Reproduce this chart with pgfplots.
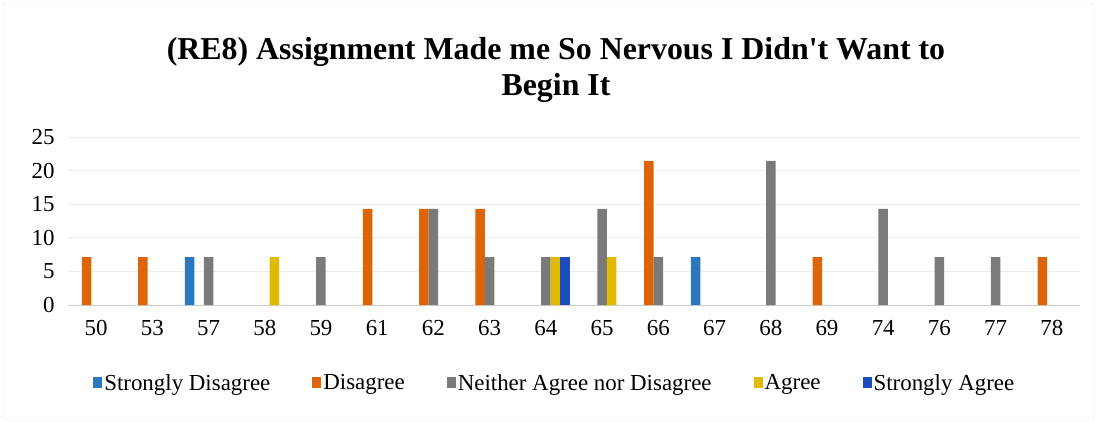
\documentclass[border=0pt]{standalone}
\usepackage{pgfplots}
\pgfplotsset{compat=1.18}
\usepackage{fontspec}
\setmainfont{Liberation Serif}[Ligatures=TeXOff]
\definecolor{sdC}{HTML}{2C78C0}
\definecolor{dC}{HTML}{DE6408}
\definecolor{nC}{HTML}{7A7A7A}
\definecolor{aC}{HTML}{E0BA00}
\definecolor{saC}{HTML}{1C4CC0}
\begin{document}
\begin{tikzpicture}[x=1bp,y=1bp]
\path[use as bounding box] (0,0) rectangle (1098,422);
\draw[black!12, rounded corners=3bp] (3,3) rectangle (1094,419);
\node[font=\bfseries\fontsize{32}{37}\selectfont, align=center] at (556,352)
  {(RE8) Assignment Made me So Nervous I Didn't Want to\\Begin It};
\begin{axis}[
  at={(68bp,117bp)}, anchor=south west,
  scale only axis, width=1012bp, height=168bp,
  xmin=-0.5, xmax=17.5, ymin=0, ymax=25,
  ytick={0,5,...,25},
  xtick={0,...,17},
  xticklabels={50,53,57,58,59,61,62,63,64,65,66,67,68,69,74,76,77,78},
  /pgf/number format/assume math mode=true,
  ybar=0pt, bar width=9.5bp,
  axis line style={draw=none},
  major tick length=0pt,
  ymajorgrids, grid style={black!7, line width=0.8bp},
  extra y ticks={0}, extra y tick labels={},
  extra y tick style={grid style={black!20, line width=0.8bp}},
  ticklabel style={font=\fontsize{23}{25}\selectfont},
  xticklabel style={yshift=-12bp},
  yticklabel style={xshift=-10bp},
  legend style={at={(0.481,-0.464)}, anchor=center, legend columns=-1, draw=none,
    font=\fontsize{23}{26}\selectfont,
    /tikz/every even column/.append style={column sep=40bp}},
  legend image code/.code={\path[#1] (0bp,-5bp) rectangle (9bp,6bp);},
]
\addplot[draw=none, fill=sdC] coordinates {(2,7.14) (11,7.14)};
\addlegendentry{Strongly Disagree}
\addplot[draw=none, fill=dC] coordinates {(0,7.14) (1,7.14) (5,14.29) (6,14.29) (7,14.29) (10,21.43) (13,7.14) (17,7.14)};
\addlegendentry{Disagree}
\addplot[draw=none, fill=nC] coordinates {(2,7.14) (4,7.14) (6,14.29) (7,7.14) (8,7.14) (9,14.29) (10,7.14) (12,21.43) (14,14.29) (15,7.14) (16,7.14)};
\addlegendentry{Neither Agree nor Disagree}
\addplot[draw=none, fill=aC] coordinates {(3,7.14) (8,7.14) (9,7.14)};
\addlegendentry{Agree}
\addplot[draw=none, fill=saC] coordinates {(8,7.14)};
\addlegendentry{Strongly Agree}
\end{axis}
\end{tikzpicture}
\end{document}
